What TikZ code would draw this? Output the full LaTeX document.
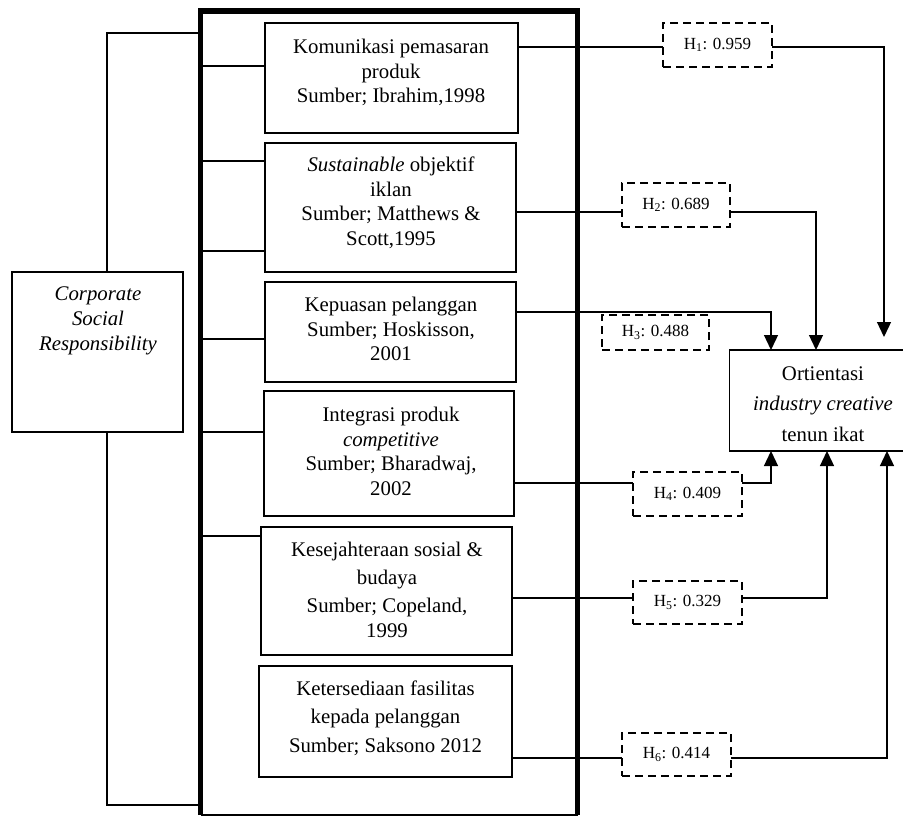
\documentclass[tikz,border=0pt]{standalone}
\usepackage{fontspec}
\setmainfont{Liberation Serif}
\usetikzlibrary{arrows.meta}
\begin{document}
\begin{tikzpicture}[x=1pt,y=-1pt,
  box/.style={draw,line width=1.4pt,inner sep=0pt,outer sep=0pt},
  txt/.style={align=center,inner sep=0pt,font=\fontsize{20.8}{24.5}\selectfont},
  hbox/.style={draw,line width=2.2pt,dash pattern=on 8pt off 5pt,inner sep=0pt,outer sep=0pt,font=\fontsize{17}{19}\selectfont},
  ln/.style={line width=1.3pt},
  arr/.style={line width=1.3pt,-{Triangle[length=15pt,width=14pt]}}]
\useasboundingbox (0,0) rectangle (903,816);
% big thick frame
\node[inner sep=0pt,outer sep=0pt,minimum width=377pt,minimum height=804pt] (big) at (389,413) {};
\draw[line width=5.5pt] (big.south west) -- (big.north west) -- (big.north east) -- (big.south east);
\draw[line width=1.2pt] (big.south west) -- (big.south east);
% boxes
\node[box,minimum width=253pt,minimum height=110pt] (b1) at (391.5,78) {};
\node[box,minimum width=251pt,minimum height=129pt] (b2) at (390.5,207.5) {};
\node[box,minimum width=251pt,minimum height=100pt] (b3) at (390.5,332) {};
\node[box,minimum width=250pt,minimum height=125pt] (b4) at (389,453.5) {};
\node[box,minimum width=251pt,minimum height=128pt] (b5) at (386.5,591) {};
\node[box,minimum width=253pt,minimum height=111pt] (b6) at (385.5,721.5) {};
\node[box,minimum width=171pt,minimum height=160pt] (csr) at (97.5,352) {};
\node[box,minimum width=181pt,minimum height=101pt] (ort) at (820,400.5) {};
% texts
\node[txt] (t1) at (391,72.5) {Komunikasi pemasaran\\produk\\Sumber; Ibrahim,1998};
\node[txt] (t2) at (391,203) {\textit{Sustainable} objektif\\iklan\\Sumber; Matthews \&\\Scott,1995};
\node[txt] (t3) at (391,329) {Kepuasan pelanggan\\Sumber; Hoskisson,\\2001};
\node[txt] (t4) at (391,451.5) {Integrasi produk\\\textit{competitive}\\Sumber; Bharadwaj,\\2002};
\node[txt] (t5) at (387,590) {Kesejahteraan sosial \&\\[3pt]budaya\\[4pt]Sumber; Copeland,\\1999};
\node[txt] (t6) at (385.5,718) {Ketersediaan fasilitas\\[4pt]kepada pelanggan\\[4pt]Sumber; Saksono 2012};
\node[txt,font=\fontsize{20.8}{25}\selectfont\itshape] (tc) at (98,321) {Corporate\\Social\\Responsibility};
\node[txt] (to) at (823,404) {Ortientasi\\[6pt]\textit{industry creative}\\[6pt]tenun ikat};
% hypothesis boxes
\node[hbox,minimum width=109pt,minimum height=44pt] (h1) at (717.5,45) {H\textsubscript{1}: 0.959};
\node[hbox,minimum width=108pt,minimum height=44pt] (h2) at (676,205) {H\textsubscript{2}: 0.689};
\node[hbox,minimum width=107pt,minimum height=35pt] (h3) at (655.5,332.5) {H\textsubscript{3}: 0.488};
\node[hbox,minimum width=109pt,minimum height=44pt] (h4) at (687.5,494) {H\textsubscript{4}: 0.409};
\node[hbox,minimum width=109pt,minimum height=43pt] (h5) at (687.5,602.5) {H\textsubscript{5}: 0.329};
\node[hbox,minimum width=109pt,minimum height=43pt] (h6) at (676.5,754.5) {H\textsubscript{6}: 0.414};
% left bracket
\draw[ln] (csr.north -| 107,0) |- (big.west |- 0,33);
\draw[ln] (csr.south -| 107,0) |- (big.west |- 0,805);
% frame to boxes
\draw[ln] (big.west |- 0,66) -- (b1.west |- 0,66);
\draw[ln] (big.west |- 0,161) -- (b2.west |- 0,161);
\draw[ln] (big.west |- 0,251) -- (b2.west |- 0,251);
\draw[ln] (big.west |- 0,339) -- (b3.west |- 0,339);
\draw[ln] (big.west |- 0,432) -- (b4.west |- 0,432);
\draw[ln] (big.west |- 0,536) -- (b5.west |- 0,536);
% boxes to hypotheses
\draw[ln] (b1.east |- 0,47) -- (h1.west |- 0,47);
\draw[ln] (b2.east |- 0,212) -- (h2.west |- 0,212);
\draw[ln] (b4.east |- 0,483) -- (h4.west |- 0,483);
\draw[ln] (b5.east |- 0,598) -- (h5.west |- 0,598);
\draw[ln] (b6.east |- 0,758) -- (h6.west |- 0,758);
% to Ortientasi
\coordinate (a1) at (884,337);
\draw[arr] (h1.east |- 0,47) -| (a1);
\draw[arr] (h2.east |- 0,212) -| (ort.north -| 816,0);
\draw[arr] (b3.east |- 0,312) -| (ort.north -| 771,0);
\draw[arr] (h4.east |- 0,483) -| (ort.south -| 771,0);
\draw[arr] (h5.east |- 0,598) -| (ort.south -| 827,0);
\draw[arr] (h6.east |- 0,758) -| (ort.south -| 887,0);
\end{tikzpicture}
\end{document}
